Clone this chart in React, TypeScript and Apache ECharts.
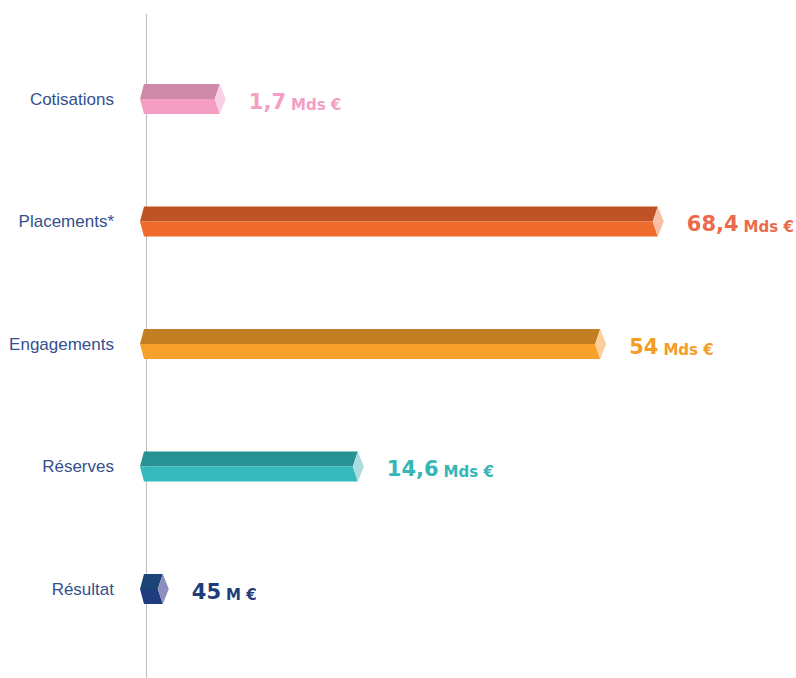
import React, { useEffect, useRef } from "react";
import * as echarts from "echarts";

const categories = ["Cotisations", "Placements*", "Engagements", "Réserves", "Résultat"];
// bar lengths as drawn in the picture (display units on a 0–100 axis)
const barLengths = [12.3, 85.3, 75.7, 35.3, 2.8];
const valueTexts = ["1,7", "68,4", "54", "14,6", "45"];
const unitTexts = ["Mds €", "Mds €", "Mds €", "Mds €", "M €"];
const darkColors = ["#cf89a8", "#bf5325", "#c47e22", "#279193", "#1c4575"];
const lightColors = ["#f49ec4", "#ee6b2d", "#f7a12b", "#35b9bc", "#1f3c80"];
const capColors = ["#f8d0e2", "#f8bfa5", "#fbd09a", "#acdcdd", "#8d8fc0"];
const labelColors = ["#f49ec4", "#ec6a4c", "#f59c25", "#35b6b8", "#1e3d7a"];

export default function App() {
  const ref = useRef<HTMLDivElement>(null);
  useEffect(() => {
    if (!ref.current) return;
    const chart = echarts.init(ref.current, undefined, { renderer: "svg" });
    const data = barLengths.map((v, i) => [v, i]);
    const numFont = "DejaVu Sans";
    chart.setOption({
      animation: false,
      backgroundColor: "#ffffff",
      grid: { left: 146, right: 50, top: 37.75, bottom: 27.75 },
      xAxis: { type: "value", min: 0, max: 100, show: false },
      yAxis: {
        type: "category",
        data: categories,
        inverse: true,
        axisLine: { show: false },
        axisTick: { show: false },
        axisLabel: {
          margin: 32,
          color: "#34508f",
          fontSize: 17,
          fontFamily: "Liberation Sans",
        },
      },
      graphic: [
        {
          type: "line",
          shape: { x1: 146.5, y1: 14, x2: 146.5, y2: 678 },
          style: { stroke: "#bdbdbd", lineWidth: 1 },
          z: 0,
        },
      ],
      series: [
        {
          type: "custom",
          z: 5,
          data,
          renderItem: (params: any, api: any) => {
            const idx = api.value(1);
            const len = api.value(0);
            const [x0, yc] = api.coord([0, idx]);
            const [xe] = api.coord([len, idx]);
            const half = 15;
            const top = yc - half;
            const bot = yc + half;
            const lx = x0 - 2;
            const tip = x0 - 6;
            const col = labelColors[idx];
            return {
              type: "group",
              children: [
                {
                  type: "polygon",
                  shape: { points: [[lx, top], [xe, top], [xe - 5, yc], [tip, yc]] },
                  style: { fill: darkColors[idx] },
                },
                {
                  type: "polygon",
                  shape: { points: [[tip, yc], [xe - 5, yc], [xe, bot], [lx, bot]] },
                  style: { fill: lightColors[idx] },
                },
                {
                  type: "polygon",
                  shape: { points: [[xe, top], [xe + 6, yc], [xe, bot], [xe - 5, yc]] },
                  style: { fill: capColors[idx] },
                },
                {
                  type: "text",
                  x: xe + 29,
                  y: yc + 1,
                  style: {
                    text: `{n|${valueTexts[idx]}}{u|${unitTexts[idx]}}`,
                    fill: col,
                    align: "left",
                    verticalAlign: "middle",
                    rich: {
                      n: {
                        fontFamily: numFont,
                        fontWeight: "bold",
                        fontSize: 21,
                        fill: col,
                        lineHeight: 24,
                        verticalAlign: "bottom",
                      },
                      u: {
                        fontFamily: numFont,
                        fontWeight: "bold",
                        fontSize: 15,
                        fill: col,
                        lineHeight: 24,
                        padding: [0, 0, 0, 5],
                        verticalAlign: "bottom",
                      },
                    },
                  },
                },
              ],
            };
          },
        },
      ],
    });
    return () => chart.dispose();
  }, []);
  return (
    <div
      ref={ref}
      style={{ position: "fixed", left: 0, top: 0, width: 796, height: 678 }}
    />
  );
}
